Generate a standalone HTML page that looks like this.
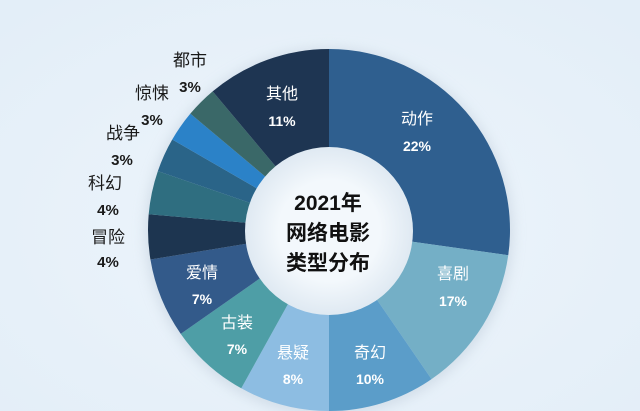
<!DOCTYPE html>
<html><head><meta charset="utf-8"><style>
html,body{margin:0;padding:0;width:640px;height:411px;overflow:hidden;background:#e8f1f9;}
svg{display:block;font-family:"Liberation Sans","Noto Sans CJK SC",sans-serif;}
</style></head><body>
<svg id="s" width="640" height="411" viewBox="0 0 640 411">
<defs>
<radialGradient id="bg" cx="50%" cy="55%" r="70%"><stop offset="0" stop-color="#eef5fb"/><stop offset="1" stop-color="#e3eef8"/></radialGradient>
<radialGradient id="inner" cx="50%" cy="50%" r="50%"><stop offset="0.6" stop-color="#f3f8fc"/><stop offset="1" stop-color="#dfe9f2"/></radialGradient>
<filter id="sh" x="-20%" y="-20%" width="140%" height="140%"><feGaussianBlur stdDeviation="6"/></filter>
</defs>
<rect width="640" height="411" fill="url(#bg)"/>
<circle cx="329" cy="232" r="184" fill="#c9d6e2" filter="url(#sh)" opacity="0.7"/>
<g id="segs"></g>
<circle cx="329" cy="231" r="84" fill="url(#inner)"/>
<g font-weight="bold" font-size="21" fill="#111" text-anchor="middle">
<text x="328" y="210">2021年</text>
<text x="328" y="240">网络电影</text>
<text x="328" y="270">类型分布</text>
</g>
<g fill="#fff" text-anchor="middle" font-size="16">
<text x="282" y="99">其他</text><text x="282" y="126" font-weight="bold" font-size="14">11%</text>
<text x="417" y="124">动作</text><text x="417" y="151" font-weight="bold" font-size="14">22%</text>
<text x="453" y="279">喜剧</text><text x="453" y="306" font-weight="bold" font-size="14">17%</text>
<text x="370" y="358">奇幻</text><text x="370" y="384" font-weight="bold" font-size="14">10%</text>
<text x="293" y="358">悬疑</text><text x="293" y="384" font-weight="bold" font-size="14">8%</text>
<text x="237" y="328">古装</text><text x="237" y="354" font-weight="bold" font-size="14">7%</text>
<text x="202" y="278">爱情</text><text x="202" y="304" font-weight="bold" font-size="14">7%</text>
</g>
<g fill="#1a1a1a" text-anchor="middle" font-size="17">
<text x="190" y="66">都市</text><text x="190" y="92" font-weight="bold" font-size="15">3%</text>
<text x="152" y="99">惊悚</text><text x="152" y="125" font-weight="bold" font-size="15">3%</text>
<text x="123" y="139">战争</text><text x="122" y="165" font-weight="bold" font-size="15">3%</text>
<text x="105" y="189">科幻</text><text x="108" y="215" font-weight="bold" font-size="15">4%</text>
<text x="108" y="243">冒险</text><text x="108" y="267" font-weight="bold" font-size="15">4%</text>
</g>
</svg>
<script>
var cx=329,cy=230,R=181,r=80;
var segs=[[0,98,"#2f5f8f"],[98,145.5,"#74afc6"],[145.5,180,"#5b9dc9"],[180,209,"#8dbde2"],[209,235,"#4e9ea6"],[235,260.6,"#335a8a"],[260.6,275,"#1d3550"],[275,289,"#2f6e80"],[289,300,"#2a6488"],[300,310,"#2b82c8"],[310,320,"#3a6868"],[320,360,"#1e3552"]];
function p(a,rr){var t=(a-90)*Math.PI/180;return (cx+rr*Math.cos(t)).toFixed(2)+","+(cy+rr*Math.sin(t)).toFixed(2);}
var h="";
segs.forEach(function(s){var l=(s[1]-s[0])>180?1:0;
h+='<path fill="'+s[2]+'" d="M'+p(s[0],R)+' A'+R+','+R+' 0 '+l+' 1 '+p(s[1],R)+' L'+p(s[1],r)+' A'+r+','+r+' 0 '+l+' 0 '+p(s[0],r)+' Z"/>';});
document.getElementById("segs").innerHTML=h;
</script>
</body></html>
